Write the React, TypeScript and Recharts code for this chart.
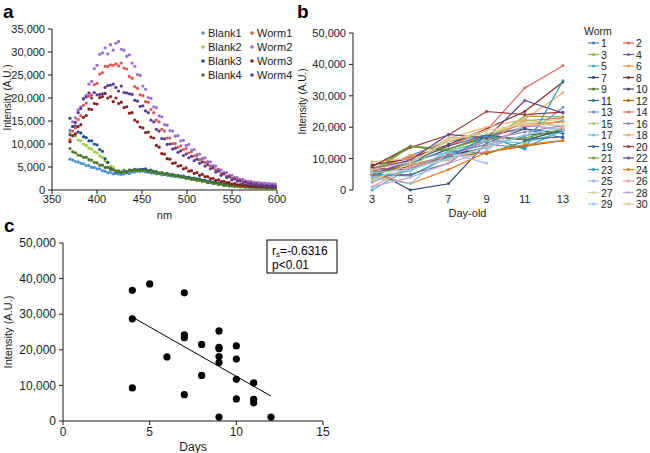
import React from 'react';
import { ScatterChart, Scatter, LineChart, Line, XAxis, YAxis, ReferenceLine } from 'recharts';

const FONT = '"Liberation Sans", Arial, Helvetica, sans-serif';
const INK = '#1a1a1a';

// ---------- Panel a: emission spectra ----------
const wavelengths = [
  370, 373, 376, 379, 382, 385, 388, 391, 394, 397,
  400, 403, 406, 409, 412, 415, 418, 421, 424, 427,
  430, 433, 436, 439, 442, 445, 448, 451, 454, 457,
  460, 463, 466, 469, 472, 475, 478, 481, 484, 487,
  490, 493, 496, 499, 502, 505, 508, 511, 514, 517,
  520, 523, 526, 529, 532, 535, 538, 541, 544, 547,
  550, 553, 556, 559, 562, 565, 568, 571, 574, 577,
  580, 583, 586, 589, 592, 595, 598,
];
const blank1 = [
  6700, 6500, 6200, 6100, 5800, 5700, 5300, 5300, 4900, 4900,
  4600, 4600, 4200, 4100, 3800, 3800, 3500, 3600, 3500, 3400,
  3500, 3700, 3600, 3900, 3900, 4100, 4000, 4200, 3900, 3900,
  3700, 3700, 3500, 3600, 3300, 3400, 3200, 3300, 3000, 3100,
  2900, 3000, 2700, 2800, 2500, 2600, 2300, 2400, 2100, 2100,
  1900, 1900, 1700, 1700, 1500, 1500, 1300, 1300, 1100, 1100,
  950, 1000, 850, 900, 750, 800, 650, 700, 600, 650,
  550, 600, 500, 550, 450, 500, 450,
];
const blank2 = [
  12500, 11800, 11700, 10900, 10700, 10000, 9700, 9100, 8900, 8300,
  8100, 7400, 7100, 6300, 6000, 5200, 4900, 4300, 4200, 3800,
  4000, 3900, 4200, 4100, 4400, 4300, 4400, 4300, 4300, 4000,
  4100, 3800, 3900, 3600, 3700, 3400, 3500, 3200, 3300, 3000,
  3100, 2800, 2900, 2600, 2700, 2400, 2400, 2100, 2200, 1900,
  2000, 1700, 1700, 1400, 1500, 1200, 1300, 1000, 1100, 900,
  950, 800, 850, 700, 750, 600, 650, 550, 600, 500,
  550, 450, 500, 400, 450, 350, 400,
];
const blank3 = [
  15600, 13800, 13900, 12600, 12400, 11600, 11400, 10700, 10700, 10000,
  9800, 8800, 8400, 6800, 6000, 4700, 4400, 3900, 4000, 3900,
  4200, 3900, 4300, 4200, 4500, 4400, 4500, 4500, 4600, 4200,
  4300, 4000, 4000, 3700, 3800, 3500, 3600, 3300, 3400, 3100,
  3200, 2900, 3000, 2700, 2800, 2500, 2600, 2300, 2400, 2100,
  2100, 1800, 1900, 1600, 1700, 1400, 1500, 1200, 1300, 1000,
  1100, 900, 950, 800, 850, 750, 800, 650, 750, 600,
  700, 550, 650, 500, 600, 450, 550,
];
const blank4 = [
  9000, 8300, 8100, 7600, 7500, 7100, 7100, 6600, 6500, 6000,
  5900, 5400, 5400, 4900, 4900, 4400, 4400, 4000, 4100, 3800,
  4100, 4000, 4300, 4200, 4500, 4300, 4400, 4200, 4300, 4000,
  4100, 3800, 3900, 3600, 3700, 3400, 3500, 3200, 3300, 3000,
  3100, 2800, 2900, 2500, 2600, 2300, 2400, 2100, 2200, 1900,
  1900, 1600, 1700, 1400, 1500, 1200, 1300, 1000, 1100, 900,
  950, 800, 850, 700, 750, 600, 700, 550, 650, 500,
  600, 450, 550, 400, 500, 350, 450,
];
const worm1 = [
  11000, 12800, 13500, 15300, 16200, 18400, 18900, 20400, 20700, 22900,
  23200, 25200, 25500, 26900, 26800, 27200, 27100, 27400, 27000, 27600,
  26500, 26300, 24700, 24300, 22500, 22100, 20700, 20500, 19200, 19100,
  17500, 16800, 15200, 14800, 13200, 12800, 11300, 11300, 10100, 10100,
  9300, 9600, 8800, 9000, 8100, 8300, 7400, 7500, 6600, 6800,
  6000, 6100, 5200, 5300, 4400, 4500, 3600, 3800, 3000, 3200,
  2600, 2700, 2200, 2300, 1900, 2000, 1600, 1800, 1400, 1600,
  1300, 1500, 1200, 1400, 1100, 1300, 1100,
];
const worm2 = [
  13000, 14800, 15700, 17400, 18100, 19900, 20600, 23000, 23600, 26400,
  27100, 29500, 29800, 30900, 29600, 31600, 30400, 31900, 32300, 30600,
  30400, 29100, 29400, 27600, 26900, 25100, 24900, 22600, 21900, 20100,
  19900, 18100, 17900, 16100, 15900, 14200, 14100, 12900, 12800, 11700,
  11800, 10700, 10800, 9700, 9900, 8700, 8800, 7700, 7800, 6800,
  7000, 6100, 6100, 5300, 5200, 4400, 4400, 3700, 3800, 3100,
  3200, 2500, 2700, 2100, 2300, 1800, 1900, 1600, 1700, 1400,
  1600, 1300, 1500, 1200, 1400, 1100, 1300,
];
const worm3 = [
  10500, 11800, 12200, 13800, 14200, 15800, 16200, 17600, 17500, 18800,
  18700, 20100, 20300, 21000, 20000, 20300, 19200, 20000, 18800, 19100,
  17900, 18100, 16700, 16800, 15200, 14800, 13700, 13500, 12500, 12600,
  11500, 11300, 9700, 9300, 7900, 7800, 6800, 6700, 5800, 5900,
  5200, 5300, 4600, 4800, 4100, 4200, 3600, 3800, 3200, 3400,
  2900, 2900, 2500, 2500, 2100, 2200, 1800, 1900, 1600, 1600,
  1300, 1400, 1100, 1200, 950, 1050, 850, 950, 750, 850,
  750, 750, 650, 750, 550, 650, 550,
];
const worm4 = [
  12000, 13800, 14700, 16800, 17700, 19800, 20200, 21100, 20000, 21200,
  20700, 20800, 20900, 22300, 22700, 22800, 23000, 22300, 21500, 22600,
  21200, 21100, 20900, 20800, 19500, 19300, 18200, 18300, 17200, 16800,
  15200, 14800, 13200, 12800, 11200, 11100, 9900, 10000, 8900, 9100,
  8200, 8500, 7500, 7800, 7000, 7300, 6400, 6700, 5800, 6100,
  5200, 5500, 4600, 4800, 3900, 4100, 3200, 3500, 2700, 2900,
  2200, 2400, 1900, 2000, 1500, 1700, 1300, 1500, 1100, 1300,
  950, 1100, 850, 1000, 750, 900, 750,
];
const spectrumNames = ['Blank1', 'Blank2', 'Blank3', 'Blank4', 'Worm1', 'Worm2', 'Worm3', 'Worm4'];
const spectrumColors = ['#4a8fd8', '#9ccb45', '#1f4e8e', '#4b7a26', '#e2554d', '#9b6dd2', '#8a1d1f', '#5a3c8e'];
const spectrumValues = [blank1, blank2, blank3, blank4, worm1, worm2, worm3, worm4];
const nmTicks = [350, 400, 450, 500, 550, 600];
const intensityTicksA = [0, 5000, 10000, 15000, 20000, 25000, 30000, 35000];

// ---------- Panel b: intensity over age per worm ----------
const days = [3, 5, 7, 9, 11, 13];
const dayEdges = [2, 4, 6, 8, 10, 12, 14];
const wormIds = [
  '1', '2', '3', '4', '5', '6', '7', '8', '9', '10',
  '11', '12', '13', '14', '15', '16', '17', '18', '19', '20',
  '21', '22', '23', '24', '25', '26', '27', '28', '29', '30',
];
const wormValues: (number | null)[][] = [
  [6000, 11000, 15500, 17500, 19500, 16500],
  [7000, 10500, 14000, 19000, 32500, 39600],
  [5500, 13800, 12500, 15500, 23500, 23300],
  [4500, 5000, 8500, 17000, 20000, 22000],
  [0, 7000, 11500, 14500, 13500, 19000],
  [5500, 11000, 13000, 17500, 21000, 21700],
  [6500, 0, 2000, 15000, 19500, 18000],
  [8000, 10000, 14500, 19500, 25000, 34400],
  [7500, 14000, 12500, 11500, 15500, 19500],
  [7000, 6500, 11000, 13500, 17500, 18500],
  [4500, 8500, 13000, 17000, 16000, 19000],
  [5500, 7500, 10500, 12000, 14000, 15700],
  [5000, 9500, 12000, 14500, 17000, 26300],
  [6000, 8000, 11000, 15500, 22000, 23000],
  [3500, 6500, 16500, 17000, 22500, 20000],
  [2500, 7000, 10500, 16000, 18500, 20500],
  [4000, 6000, 12500, 15500, 15000, 18500],
  [9000, 10000, 16500, 20000, 22500, 31000],
  [5000, 9000, 14000, 17500, 16000, 17000],
  [7500, 13500, 17500, 25000, 24000, 24800],
  [6000, 14000, 13000, 16500, 16500, 19500],
  [6500, 9500, 17700, 16500, 28500, 24500],
  [5000, 4500, 10500, 17000, 13000, 34800],
  [5000, 2000, 6500, 12000, 14500, 15700],
  [4000, 2000, 12000, 8500, null, null],
  [1000, 7500, 9500, 14000, 20500, 19500],
  [3000, 8500, 16000, 18000, 21500, 22500],
  [1000, 4000, 8500, 12500, 21000, 19000],
  [5500, 6500, 10000, 13500, 17500, 20000],
  [6500, 9000, 15500, 19000, 21000, 20500],
];
const wormColors = [
  '#4a7ebb', '#d9625e', '#8cb43c', '#7b5fa8', '#40aec8', '#f59a4a',
  '#2a4a78', '#7a2a28', '#5c7a2c', '#4a3a6a', '#2a6e80', '#c0600a',
  '#6c95cc', '#dd7470', '#a8cc6a', '#9a86c0', '#6cc4d8', '#f8ae74',
  '#3a62a0', '#9a3a38', '#76a032', '#62488e', '#2e95ae', '#f07818',
  '#9ab8e0', '#e8a0a0', '#c0dc98', '#b8a8d8', '#98d4e4', '#fac090',
];
const intensityTicksB = [0, 10000, 20000, 30000, 40000, 50000];

// ---------- Panel c: intensity vs days ----------
const ageDays = [4, 4, 4, 5, 6, 7, 7, 7, 7, 8, 8, 9, 9, 9, 9, 9, 9, 10, 10, 10, 10, 11, 11, 11, 12];
const ageIntensity = [
  36700, 28700, 9300, 38500, 18000, 36000, 24200, 23400, 7400, 21500,
  12800, 25300, 20700, 20300, 18100, 16400, 1100, 21100, 17400, 11700,
  6200, 10700, 6100, 5100, 1100,
];
const trendDays = [4, 12];
const trendIntensity = [29200, 7000];
const daysTicks = [0, 5, 10, 15];
const intensityTicksC = [0, 10000, 20000, 30000, 40000, 50000];

// ---------- helpers ----------
const fmt = (v: number) => v.toLocaleString('en-US');

function YTitle(props: any) {
  const { viewBox, cx, shift = 0, size = 10, text } = props;
  const y = viewBox.y + viewBox.height / 2 + shift;
  return (
    <text x={cx} y={y} transform={`rotate(-90 ${cx} ${y})`} textAnchor="middle" dominantBaseline="central"
      fontSize={size} fontFamily={FONT} fill={INK}>{text}</text>
  );
}
function XTitle(props: any) {
  const { viewBox, dy = 24, size = 11, text } = props;
  const x = viewBox.x + viewBox.width / 2;
  const y = viewBox.y + dy;
  return (
    <text x={x} y={y} textAnchor="middle" dominantBaseline="central" fontSize={size} fontFamily={FONT} fill={INK}>{text}</text>
  );
}

const tickStyle = (size: number) => ({ fontSize: size, fill: INK, fontFamily: FONT });

const spectra = spectrumNames.map((name, s) => ({
  name,
  color: spectrumColors[s],
  points: wavelengths.map((nm, i) => ({ x: nm, y: spectrumValues[s][i] })),
}));

const dayRows = days.map((d, j) => {
  const row: any = { day: d };
  wormIds.forEach((id, w) => { row['w' + id] = wormValues[w][j]; });
  return row;
});

const agePoints = ageDays.map((d, i) => ({ x: d, y: ageIntensity[i] }));

const dotShape = (color: string, r: number) => (p: any) =>
  <circle cx={p.cx} cy={p.cy} r={r} fill={color} stroke="none" />;

export default function App() {
  return (
    <div style={{ position: 'absolute', left: 0, top: 0, width: 650, height: 453, background: '#fff', fontFamily: FONT, overflow: 'hidden' }}>
      {/* Panel a */}
      <div style={{ position: 'absolute', left: 0, top: 0 }}>
        <ScatterChart width={290} height={222} margin={{ top: 29, right: 13, bottom: 0, left: 0 }}>
          <XAxis type="number" dataKey="x" domain={[350, 600]} ticks={nmTicks} height={32}
            stroke={INK} tickSize={4} tickMargin={1} tick={tickStyle(11)}
            label={<XTitle text="nm" dy={25} size={11} />} />
          <YAxis type="number" dataKey="y" domain={[0, 35000]} ticks={intensityTicksA} width={52}
            stroke={INK} tickSize={4} tickMargin={3} tick={tickStyle(11)} tickFormatter={fmt}
            label={<YTitle text="Intensity (A.U.)" cx={7} shift={-12} size={10} />} />
          {spectra.map((s) => (
            <Scatter key={s.name} name={s.name} data={s.points} fill={s.color}
              shape={dotShape(s.color, 1.6)} isAnimationActive={false} />
          ))}
        </ScatterChart>
      </div>

      {/* Panel b */}
      <div style={{ position: 'absolute', left: 290, top: 0 }}>
        <LineChart width={300} height={222} data={dayRows} margin={{ top: 33, right: 8, bottom: 0, left: 0 }}>
          <XAxis xAxisId="edges" type="number" dataKey="day" domain={[2, 14]} ticks={dayEdges} height={0}
            stroke={INK} tickSize={4} tick={false} />
          <XAxis xAxisId="days" type="number" dataKey="day" domain={[2, 14]} ticks={days} height={32}
            axisLine={false} tickLine={false} tickSize={4} tickMargin={1} tick={tickStyle(11)}
            label={<XTitle text="Day-old" dy={23} size={11} />} />
          <YAxis domain={[0, 50000]} ticks={intensityTicksB} width={63}
            stroke={INK} tickSize={4} tickMargin={3} tick={tickStyle(11)} tickFormatter={fmt}
            label={<YTitle text="Intensity (A.U.)" cx={12} shift={-10} size={10} />} />
          {wormIds.map((id, w) => (
            <Line key={id} xAxisId="days" dataKey={'w' + id} stroke={wormColors[w]} strokeWidth={1.2}
              dot={{ r: 1.4, fill: wormColors[w], stroke: 'none' }} activeDot={false}
              connectNulls={false} isAnimationActive={false} />
          ))}
        </LineChart>
      </div>

      {/* Panel c */}
      <div style={{ position: 'absolute', left: 0, top: 200 }}>
        <ScatterChart width={340} height={253} margin={{ top: 43, right: 17, bottom: 0, left: 0 }}>
          <XAxis type="number" dataKey="x" domain={[0, 15]} ticks={daysTicks} height={32}
            stroke={INK} tickSize={4} tickMargin={2} tick={tickStyle(12)}
            label={<XTitle text="Days" dy={26} size={12} />} />
          <YAxis type="number" dataKey="y" domain={[0, 50000]} ticks={intensityTicksC} width={63}
            stroke={INK} tickSize={4} tickMargin={3} tick={tickStyle(12)} tickFormatter={fmt}
            label={<YTitle text="Intensity (A.U.)" cx={8} shift={0} size={11} />} />
          <ReferenceLine segment={[{ x: trendDays[0], y: trendIntensity[0] }, { x: trendDays[1], y: trendIntensity[1] }]}
            stroke="#000" strokeWidth={1} />
          <Scatter data={agePoints} fill="#000" shape={dotShape('#000', 3.6)} isAnimationActive={false} />
        </ScatterChart>
      </div>

      {/* Overlay: panel letters, legends, statistics box */}
      <svg width={650} height={453} style={{ position: 'absolute', left: 0, top: 0, pointerEvents: 'none' }}
        fontFamily={FONT}>
        <text x={3} y={18} fontSize={19} fontWeight="bold" fill="#000">a</text>
        <text x={297} y={18} fontSize={19} fontWeight="bold" fill="#000">b</text>
        <text x={4} y={232} fontSize={19} fontWeight="bold" fill="#000">c</text>

        {spectrumNames.map((name, s) => {
          const col = s < 4 ? 0 : 1;
          const row = s % 4;
          const x = col === 0 ? 203 : 252;
          const y = 33 + row * 14;
          return (
            <g key={name}>
              <circle cx={x} cy={y} r={1.8} fill={spectrumColors[s]} />
              <text x={x + 5} y={y} dominantBaseline="central" fontSize={11} fill={INK}>{name}</text>
            </g>
          );
        })}

        <text x={584} y={31} dominantBaseline="central" fontSize={10.5} fill={INK}>Worm</text>
        {wormIds.map((id, w) => {
          const col = w % 2;
          const row = Math.floor(w / 2);
          const x0 = col === 0 ? 588 : 623;
          const y = 43 + row * 11.5;
          return (
            <g key={id}>
              <line x1={x0} x2={x0 + 11} y1={y} y2={y} stroke={wormColors[w]} strokeWidth={1.2} />
              <circle cx={x0 + 5.5} cy={y} r={1.5} fill={wormColors[w]} />
              <text x={x0 + 13} y={y} dominantBaseline="central" fontSize={10.5} fill={INK}>{id}</text>
            </g>
          );
        })}

        <rect x={267} y={240} width={70} height={33} fill="#fff" stroke="#000" strokeWidth={1} />
        <text x={272} y={255} fontSize={12} fill="#000">
          r<tspan fontSize={8} dy={2}>s</tspan><tspan dy={-2}>=-0.6316</tspan>
        </text>
        <text x={272} y={269} fontSize={12} fill="#000">p&lt;0.01</text>
      </svg>
    </div>
  );
}
